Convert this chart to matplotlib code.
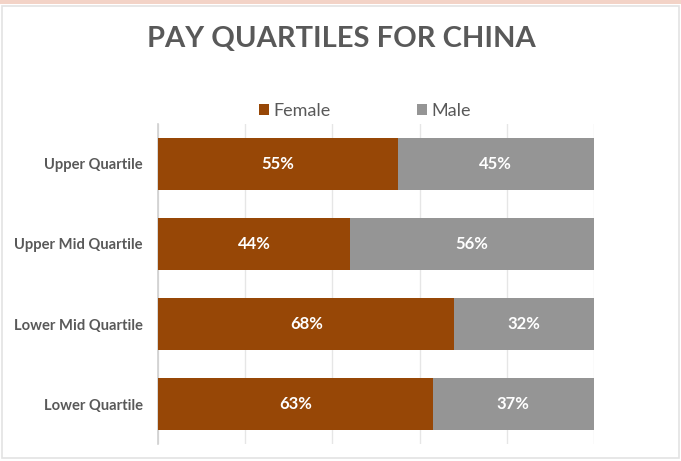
import matplotlib
matplotlib.use("Agg")
import matplotlib.pyplot as plt
from matplotlib.patches import Rectangle, Patch

categories = ["Upper Quartile", "Upper Mid Quartile", "Lower Mid Quartile", "Lower Quartile"]
female = [55, 44, 68, 63]
male = [45, 56, 32, 37]
series_names = ["Female", "Male"]
title = "PAY QUARTILES FOR CHINA"

FEMALE_C = "#974706"
MALE_C = "#959595"
TXT = "#595959"
FONT = "Lato"

fig = plt.figure(figsize=(6.81, 4.61), dpi=100)
fig.patch.set_facecolor("white")

# frame decoration
fig.patches.append(Rectangle((0, 1 - 4 / 461), 1, 4 / 461, transform=fig.transFigure,
                             facecolor="#f3d3c7", edgecolor="none", zorder=0))
fig.patches.append(Rectangle((2 / 681, 3 / 461), 677 / 681, 452 / 461, transform=fig.transFigure,
                             facecolor="none", edgecolor="#e3e3e3", lw=1.2, zorder=0))

ax = fig.add_axes([158 / 681, 1 - 444 / 461, (594 - 158) / 681, (444 - 124) / 461])
y = list(range(len(categories)))
ax.barh(y, female, height=0.65, color=FEMALE_C, zorder=3)
ax.barh(y, male, left=female, height=0.65, color=MALE_C, zorder=3)

for i in y:
    ax.text(female[i] / 2, i, f"{female[i]}%", ha="center", va="center", color="white",
            fontsize=12, fontweight="bold", family=FONT, zorder=4)
    ax.text(female[i] + male[i] / 2, i, f"{male[i]}%", ha="center", va="center", color="white",
            fontsize=12, fontweight="bold", family=FONT, zorder=4)

ax.set_xlim(0, 100)
ax.set_ylim(len(categories) - 0.5, -0.5)
ax.set_xticks([0, 20, 40, 60, 80, 100])
ax.set_xticklabels([])
ax.tick_params(axis="x", length=0)
ax.grid(axis="x", color="#e6e6e6", lw=1, zorder=0)
ax.set_yticks(y)
ax.set_yticklabels(categories, fontsize=10.6, fontweight="bold", color=TXT, family=FONT)
ax.tick_params(axis="y", length=0, pad=11)
for s in ["top", "right", "bottom"]:
    ax.spines[s].set_visible(False)
ax.spines["left"].set_color("#d0d0d0")
ax.spines["left"].set_linewidth(1.2)

fig.text(341 / 681, 1 - 39 / 461, title, ha="center", va="center", fontsize=21,
         fontweight="bold", color=TXT, family=FONT)

handles = [Patch(facecolor=FEMALE_C), Patch(facecolor=MALE_C)]
fig.legend(handles, series_names, loc="center", bbox_to_anchor=(365 / 681, 1 - 111 / 461),
           ncol=2, frameon=False, labelcolor=TXT, handlelength=0.55,
           handleheight=0.55, handletextpad=0.25, columnspacing=4.8, prop={"family": FONT, "size": 13})

fig.savefig("out.png", dpi=100, facecolor="white")
